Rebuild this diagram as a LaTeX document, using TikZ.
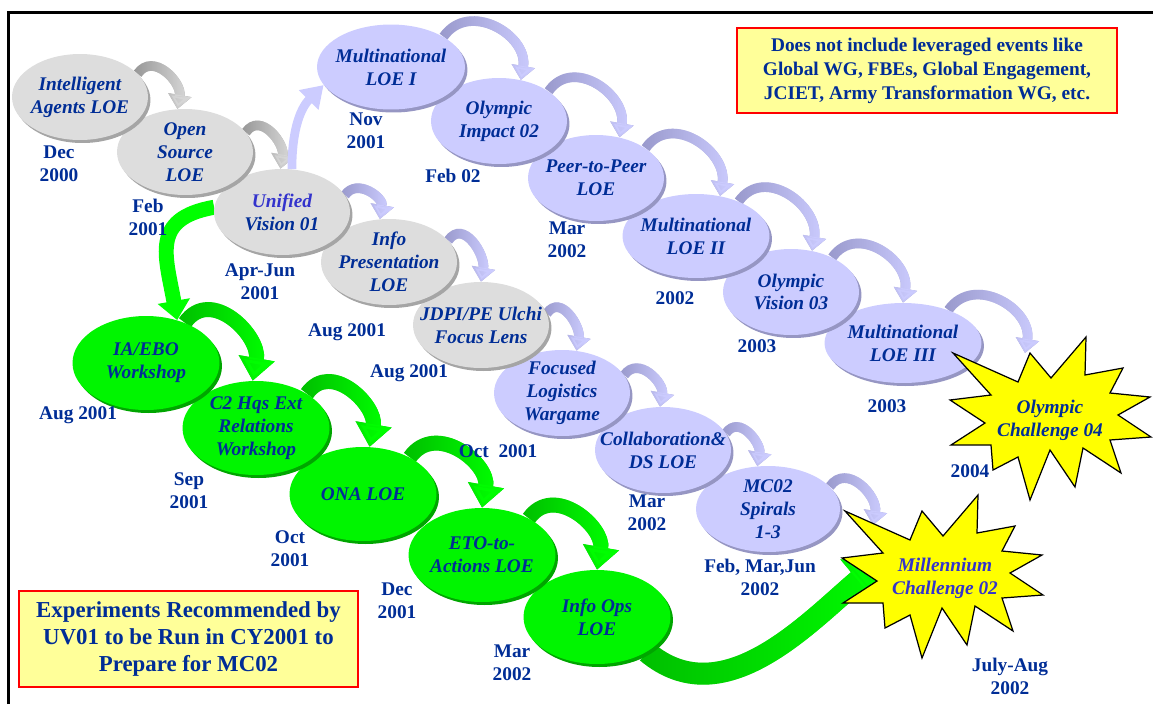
\documentclass[tikz,border=0pt]{standalone}
\usepackage{fontspec}
\setmainfont{Liberation Serif}
\usepackage{xcolor}
\usetikzlibrary{positioning,shapes,shadows,fadings,arrows.meta}

\definecolor{navy}{RGB}{0,45,150}
\definecolor{uvblue}{RGB}{51,51,204}
\definecolor{greyfill}{RGB}{221,221,221}
\definecolor{greyrim}{RGB}{165,165,165}
\definecolor{lavfill}{RGB}{204,204,255}
\definecolor{lavrim}{RGB}{150,150,195}
\definecolor{greenfill}{RGB}{0,245,0}
\definecolor{greenrim}{RGB}{0,165,0}
\definecolor{greydark}{RGB}{150,150,150}
\definecolor{greylight}{RGB}{215,215,215}
\definecolor{lavdark}{RGB}{153,153,204}
\definecolor{lavlight}{RGB}{204,204,255}
\definecolor{greendark}{RGB}{0,190,0}
\definecolor{greenlight}{RGB}{0,255,0}
\definecolor{notefill}{RGB}{255,255,153}
\definecolor{burstfill}{RGB}{255,255,0}

\pgfdeclarelayer{back}
\pgfdeclarelayer{front}
\pgfsetlayers{back,main,front}

\tikzfading[name=hopfade, left color=transparent!100, right color=transparent!0]

% one experiment: ellipse, and its name on top of everything
\newcommand{\loe}[4]{
  \node[#1] (#2) at (#3) {};
  \begin{pgfonlayer}{front}
    \node[loetext] (#2t) at (#2) {#4};
  \end{pgfonlayer}
}
% date under an experiment
\newcommand{\when}[3]{
  \begin{pgfonlayer}{front}
    \node[datetext] (#1) at (#2) {#3};
  \end{pgfonlayer}
}
% twelve point burst round the origin
\newcommand{\burst}{
  \draw[burst] (-97,67) -- (-32,38) -- (-20,67) -- (1,42) -- (36,83) -- (35,45)
    -- (73,52) -- (60,27) -- (100,23) -- (68,5) -- (101,-17) -- (60,-20)
    -- (71,-53) -- (33,-28) -- (25,-67) -- (0,-30) -- (-20,-80) -- (-32,-37)
    -- (-57,-50) -- (-59,-25) -- (-99,-25) -- (-65,-3) -- (-100,20) -- (-59,25) -- cycle;
}

\tikzset{
  loe/.style={ellipse, inner sep=0pt, minimum width=2.72cm, minimum height=1.72cm,
    fill=#1fill, drop shadow={opacity=1, fill=#1rim, shadow xshift=0.05cm, shadow yshift=-0.06cm}},
  greenloe/.style={loe=green, minimum width=2.94cm, minimum height=1.88cm},
  loetext/.style={text=navy, font=\bfseries\itshape\fontsize{11}{13}\selectfont, align=center, inner sep=0pt},
  datetext/.style={text=navy, font=\bfseries\fontsize{11}{13}\selectfont, align=center, inner sep=0pt},
  note/.style={draw=red, line width=1.1pt, fill=notefill, text=navy, align=center, inner sep=0pt},
  burst/.style={draw=black, line width=0.7pt, fill=burstfill, line join=miter},
  hop/.style={line width=5.5pt, draw=#1dark, -{Triangle[width=13pt,length=8pt]},
    postaction={draw=#1light, path fading=hopfade}},
  greenhop/.style={line width=8.5pt, draw=greendark, -{Triangle[width=20pt,length=13pt]},
    postaction={draw=greenlight, path fading=hopfade}},
}

\begin{document}
\begin{tikzpicture}[x=0.02cm, y=0.02cm]
\useasboundingbox (0,0) rectangle (1153,-704);
\draw[line width=1.7pt] (8.5,-704) -- (8.5,-12.5) -- (1153,-12.5);

% experiments, back to front
\loe{loe=lav, minimum width=2.88cm}{sp}{768,-509}{MC02\\Spirals\\1-3}
\loe{loe=lav}{cd}{663,-450}{Collaboration\&\\DS LOE}
\loe{loe=lav}{fl}{562,-393}{Focused\\Logistics\\Wargame}
\loe{loe=grey}{jd}{481,-325}{JDPI/PE Ulchi\\Focus Lens}
\loe{loe=grey}{ip}{389,-262}{Info\\Presentation\\LOE}
\loe{loe=grey}{uv}{282,-212}{\color{uvblue}Unified\\Vision 01}
\loe{loe=grey}{os}{185,-152}{Open\\Source\\LOE}
\loe{loe=grey}{ia}{80,-97}{Intelligent\\Agents LOE}

\loe{loe=lav, minimum width=3.14cm, minimum height=1.6cm}{mc}{903,-343}{Multinational\\LOE III}
\loe{loe=lav}{ov}{791,-292}{Olympic\\Vision 03}
\loe{loe=lav, minimum width=2.94cm, minimum height=1.68cm}{mb}{696,-236}{Multinational\\LOE II}
\loe{loe=lav}{pp}{596,-178}{Peer-to-Peer\\LOE}
\loe{loe=lav}{oi}{499,-121}{Olympic\\Impact 02}
\loe{loe=lav, minimum width=2.96cm, minimum height=1.7cm}{ma}{391,-67}{Multinational\\LOE I}

\loe{greenloe}{io}{597,-617}{Info Ops\\LOE}
\loe{greenloe}{et}{482,-555}{ETO-to-\\Actions LOE}
\loe{greenloe}{on}{363,-494}{ONA LOE}
\loe{greenloe}{c2}{256,-428}{C2 Hqs Ext\\Relations\\Workshop}
\loe{greenloe}{eb}{146,-363}{IA/EBO\\Workshop}

% the two challenges
\begin{scope}[shift={(1050,-420)}]
  \burst
  \node[loetext] (oc) at (0,0) {Olympic\\Challenge 04};
  \coordinate (ocin) at (-25,67);
\end{scope}
\begin{scope}[shift={(942,-578)}]
  \burst
  \node[loetext, text=uvblue] (mil) at (3,0) {Millennium\\Challenge 02};
  \coordinate (milin) at (-69,53);
  \coordinate (milgo) at (-57,20);
\end{scope}

% arrows behind the ellipses
\begin{pgfonlayer}{back}
\foreach \a/\sa/\b/\eb in {ia/22/os/100, os/18/uv/92}
  \draw[hop=grey] (\a.\sa) to[out=55,in=80,looseness=1.3] (\b.\eb);
\foreach \a/\sa/\b/\eb in {uv/15/ip/102, ip/20/jd/90, jd/10/fl/71, fl/16/cd/94, cd/15/sp/104,
    ma/30/oi/62, oi/31/pp/60, pp/31/mb/59, mb/39/ov/63, ov/40/mc/90}
  \draw[hop=lav] (\a.\sa) to[out=55,in=80,looseness=1.3] (\b.\eb);
\draw[hop=lav] (mc.36) to[out=55,in=80,looseness=1.3] (ocin);
\draw[hop=lav] (sp.20) to[out=55,in=80,looseness=1.3] (milin);
\foreach \a/\sa/\b/\eb in {eb/46/c2/94, c2/34/on/82, on/38/et/90, et/38/io/90}
  \draw[greenhop] (\a.\sa) to[out=55,in=80,looseness=1.3] (\b.\eb);
% long jumps
\draw[line width=5pt, draw=lavlight, -{Triangle[width=15pt,length=12pt]}]
  (uv.77) to[out=90,in=225] (ma.195);
\draw[line width=8.5pt, draw=greenlight, -{Triangle[width=18pt,length=11pt]}]
  (uv.176) to[out=190,in=100,looseness=1.4] (eb.54);
\draw[greenhop, line width=12.5pt, -{Triangle[width=30pt,length=20pt]}]
  (io.-35) to[out=-40,in=220] (milgo);
\end{pgfonlayer}

% dates
\when{dia}{59,-164}{Dec\\2000}
\when{dos}{148,-217}{Feb\\2001}
\when{duv}{260,-282}{Apr-Jun\\2001}
\when{dma}{366,-131}{Nov\\2001}
\when{doi}{453,-176}{Feb 02}
\when{dpp}{567,-240}{Mar\\2002}
\when{dmb}{675,-298}{2002}
\when{dov}{757,-346}{2003}
\when{dmc}{887,-406}{2003}
\when{doc}{970,-471}{2004}
\when{dmil}{1010,-676}{July-Aug\\2002}
\when{dsp}{760,-577}{Feb, Mar,Jun\\2002}
\when{dcd}{647,-513}{Mar\\2002}
\when{dfl}{498,-451}{Oct\ \ 2001}
\when{dip}{347,-332}{Aug 2001}
\when{djd}{409,-373}{Aug 2001}
\when{deb}{78,-415}{Aug 2001}
\when{dc2}{189,-491}{Sep\\2001}
\when{don}{290,-549}{Oct\\2001}
\when{det}{397,-601}{Dec\\2001}
\when{dio}{512,-663}{Mar\\2002}

% notes
\node[note, minimum width=7.6cm, minimum height=1.7cm, font=\bfseries\fontsize{11}{13.6}\selectfont]
  (lev) at (927,-70.5) {Does not include leveraged events like\\Global WG, FBEs, Global Engagement,\\JCIET, Army Transformation WG, etc.};
\node[note, minimum width=6.78cm, minimum height=1.92cm, font=\bfseries\fontsize{13}{15.3}\selectfont]
  (rec) at (188.5,-639) {Experiments Recommended by\\UV01 to be Run in CY2001 to\\Prepare for MC02};
\end{tikzpicture}
\end{document}
